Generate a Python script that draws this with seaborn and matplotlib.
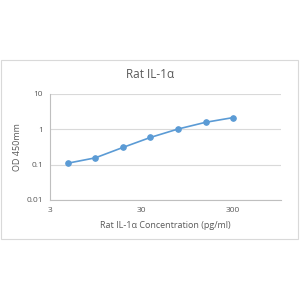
import matplotlib
matplotlib.use("Agg")
import matplotlib.pyplot as plt
import seaborn as sns
import pandas as pd
import numpy as np
from matplotlib.ticker import FixedLocator, FixedFormatter, LogLocator, NullFormatter
from matplotlib.patches import Rectangle

concentration = [4.69, 9.38, 18.75, 37.5, 75, 150, 300]
od450 = [0.11, 0.156, 0.307, 0.59, 1.02, 1.58, 2.15]
x_ticks = [3, 30, 300]
x_tick_labels = ["3", "30", "300"]
y_ticks = [0.01, 0.1, 1, 10]
y_tick_labels = ["0.01", "0.1", "1", "10"]
title = "Rat IL-1\u03b1"
x_label = "Rat IL-1\u03b1 Concentration (pg/ml)"
y_label = "OD 450mm"

df = pd.DataFrame({"conc": concentration, "od": od450})

sns.set_style("white")
plt.rcParams["font.family"] = ["Open Sans", "DejaVu Sans"]

fig = plt.figure(figsize=(3, 3), dpi=100)
ax = fig.add_axes([50 / 300, 1 - 200 / 300, 231 / 300, 106 / 300])

blue = "#5B9BD5"
sns.lineplot(data=df, x="conc", y="od", ax=ax, color=blue, linewidth=1.2,
             marker="o", markersize=4, markeredgecolor=blue)

ax.set_xscale("log")
ax.set_yscale("log")
ax.set_xlim(3, 1000)
ax.set_ylim(0.01, 10)

ax.xaxis.set_major_locator(FixedLocator(x_ticks))
ax.xaxis.set_major_formatter(FixedFormatter(x_tick_labels))
ax.xaxis.set_minor_locator(LogLocator(base=10, subs=np.arange(2, 10)))
ax.xaxis.set_minor_formatter(NullFormatter())
ax.yaxis.set_major_locator(FixedLocator(y_ticks))
ax.yaxis.set_major_formatter(FixedFormatter(y_tick_labels))
ax.yaxis.set_minor_locator(LogLocator(base=10, subs=np.arange(2, 10)))
ax.yaxis.set_minor_formatter(NullFormatter())

ax.grid(axis="y", which="major", color="#D9D9D9", linewidth=0.8)
ax.set_axisbelow(True)
for s in ["top", "right"]:
    ax.spines[s].set_visible(False)
for s in ["left", "bottom"]:
    ax.spines[s].set_color("#BFBFBF")
    ax.spines[s].set_linewidth(0.8)

ax.tick_params(axis="both", which="major", length=0, labelsize=6, colors="#595959", pad=5)
ax.tick_params(axis="both", which="minor", length=2, direction="in", color="#BFBFBF", width=0.6)

ax.set_xlabel(x_label, fontsize=6.5, color="#595959", labelpad=5)
ax.set_ylabel(y_label, fontsize=6.5, color="#595959", labelpad=3)
fig.text(0.5, 1 - 74 / 300, title, ha="center", va="center", fontsize=8.5, color="#595959")

fig.patches.append(Rectangle((1 / 300, 1 - 239 / 300), 297 / 300, 179 / 300,
                             transform=fig.transFigure, fill=False,
                             edgecolor="#D9D9D9", linewidth=0.8))

fig.savefig("out.png", dpi=100, facecolor="white")
